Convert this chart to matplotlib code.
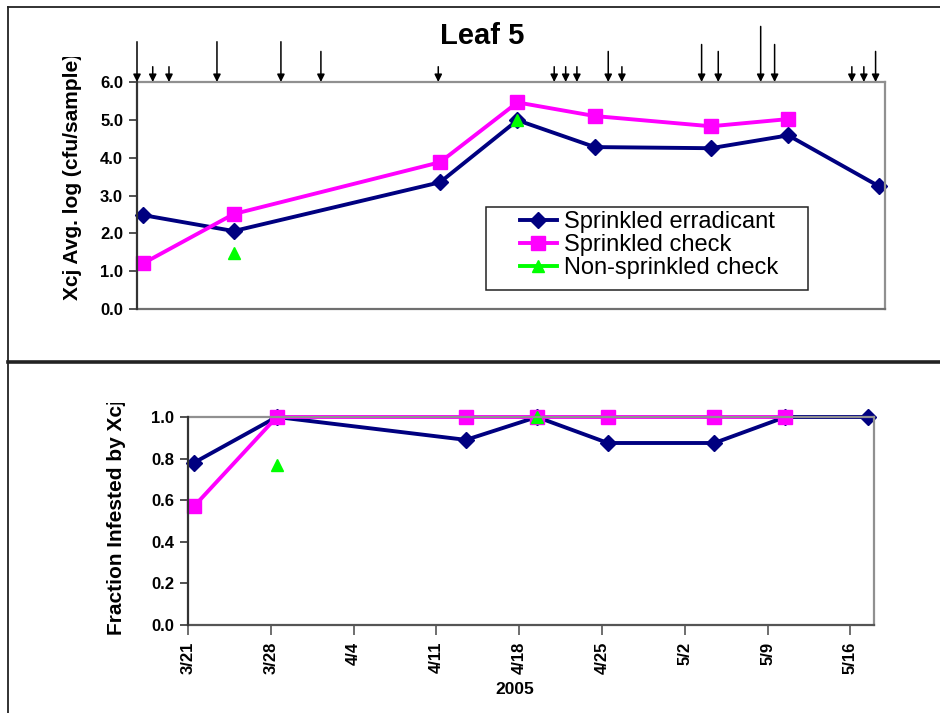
import datetime as dt
import matplotlib
matplotlib.use("Agg")
import matplotlib.pyplot as plt
import matplotlib.dates as mdates
import pandas as pd
from matplotlib.lines import Line2D
from matplotlib.patches import Rectangle
from matplotlib.transforms import Bbox, TransformedBbox

plt.rcParams['font.family'] = ['Liberation Sans', 'DejaVu Sans']

# sampling dates (points sit at noon of the day, like the Excel date axis)
sample_dates = ["2005-03-21", "2005-03-28", "2005-04-13", "2005-04-19",
                "2005-04-25", "2005-05-04", "2005-05-10", "2005-05-17"]
nonsprinkled_dates = ["2005-03-28", "2005-04-19"]

log_erradicant = [2.48, 2.06, 3.35, 4.99, 4.28, 4.25, 4.59, 3.25]
log_check = [1.21, 2.51, 3.88, 5.46, 5.10, 4.83, 5.02]
log_nonsprinkled = [1.48, 5.0]

frac_erradicant = [0.78, 1.0, 0.89, 1.0, 0.875, 0.875, 1.0, 1.0]
frac_check = [0.57, 1.0, 1.0, 1.0, 1.0, 1.0, 1.0]
frac_nonsprinkled = [0.77, 1.0]

# events marked by arrows above the top panel: days after 3/21, arrow length (pt)
event_days = [0, 1.22, 2.48, 6.2, 11.16, 14.26, 23.36, 32.35, 33.24, 34.11,
              36.54, 37.6, 43.78, 45.07, 48.36, 49.44, 55.43, 56.36, 57.27]
event_size = [29, 11, 11, 29, 29, 22, 11, 11, 11, 11,
              22, 11, 27, 22, 40, 27, 11, 11, 22]

series_names = ["Sprinkled erradicant", "Sprinkled check", "Non-sprinkled check"]
colors = ["#000080", "#FF00FF", "#00FF00"]
markers = ["D", "s", "^"]
msizes = [8.5, 10, 9]

start = pd.Timestamp("2005-03-21")
end = pd.Timestamp("2005-05-18")
tick_dates = pd.date_range(start, end, freq="7D")

x_all = pd.to_datetime(sample_dates) + pd.Timedelta(hours=12)
x_non = pd.to_datetime(nonsprinkled_dates) + pd.Timedelta(hours=12)

W, H = 940, 713
fig = plt.figure(figsize=(W / 100, H / 100), dpi=100)


def px_axes(l, t, r, b):
    return fig.add_axes([l / W, 1 - b / H, (r - l) / W, (b - t) / H])


def style_axes(ax):
    ax.spines['left'].set_color('#333333')
    ax.spines['bottom'].set_color('#707070')
    ax.spines['top'].set_color('#909090')
    ax.spines['right'].set_color('#909090')
    for s in ax.spines.values():
        s.set_linewidth(1.6)
    ax.spines['left'].set_zorder(5)
    ax.tick_params(axis='y', direction='out', length=6, width=1.2, pad=4,
                   labelsize=12, color='#333333')
    for lab in ax.get_yticklabels():
        lab.set_fontweight('bold')
    ax.set_xlim(start, end)


def draw_series(ax, ys):
    xs = [x_all, x_all[:len(ys[1])], x_non]
    # the non-sprinkled samples are not consecutive, so Excel left them unjoined
    styles = ["-", "-", "none"]
    for x, y, c, m, ms, ls in zip(xs, ys, colors, markers, msizes, styles):
        ax.plot(x, y, color=c, marker=m, markersize=ms, linewidth=2.8, linestyle=ls,
                markeredgecolor=c, clip_on=False)


# ---- top panel
ax1 = px_axes(137, 82, 885, 309)
draw_series(ax1, [log_erradicant, log_check, log_nonsprinkled])
ax1.set_ylim(0, 6)
ax1.set_yticks(range(7))
ax1.set_yticklabels([f"{v:.1f}" for v in range(7)])
style_axes(ax1)
ax1.set_xticks([])

for d, size in zip(event_days, event_size):
    xd = mdates.date2num(start + pd.Timedelta(days=d))
    ax1.annotate("", xy=(xd, 6.0), xytext=(0, size), textcoords="offset points",
                 annotation_clip=False,
                 arrowprops=dict(arrowstyle="-|>", color="black", lw=1.1,
                                 shrinkA=0, shrinkB=0, mutation_scale=11))

handles = [Line2D([], [], color=c, marker=m, markersize=ms, linewidth=2.8,
                  markeredgecolor=c) for c, m, ms in zip(colors, markers, msizes)]
leg = ax1.legend(handles, series_names, loc="upper left",
                 bbox_to_anchor=((520 - 137) / 748, (309 - 211) / 227),
                 frameon=False, fontsize=17, handlelength=1.55, handletextpad=0.3,
                 labelspacing=0.05, borderpad=0, borderaxespad=0)
ax1.add_patch(Rectangle(((486 - 137) / 748, (309 - 290) / 227), (808 - 486) / 748,
                        (290 - 207) / 227, transform=ax1.transAxes, fill=False,
                        edgecolor="#222222", linewidth=1.1, zorder=4))

# ---- bottom panel
ax2 = px_axes(188, 417, 874, 625)
draw_series(ax2, [frac_erradicant, frac_check, frac_nonsprinkled])
ax2.set_ylim(0, 1)
ax2.set_yticks([0, 0.2, 0.4, 0.6, 0.8, 1.0])
ax2.set_yticklabels(["0.0", "0.2", "0.4", "0.6", "0.8", "1.0"])
style_axes(ax2)
ax2.spines['bottom'].set_color('#555555')
ax2.set_xticks(tick_dates)
ax2.set_xticklabels([f"{t.month}/{t.day}" for t in tick_dates], rotation=90,
                    fontsize=12, fontweight='bold')
ax2.tick_params(axis='x', direction='out', length=7, width=1.2, pad=5, color='#555555')

# ---- labels and titles
fig.text(482 / W, 1 - 36 / H, "Leaf 5", fontsize=21, fontweight='bold',
         ha='center', va='center')
fig.text(515 / W, 1 - 689 / H, "2005", fontsize=12.5, fontweight='bold',
         ha='center', va='center')

t1 = fig.text(72 / W, 1 - 300 / H, "Xcj Avg. log (cfu/sample)", rotation=90,
              fontsize=15, fontweight='bold', ha='center', va='bottom')
t1.set_clip_box(TransformedBbox(Bbox.from_extents(0, 0, 1, 1 - 57 / H), fig.transFigure))
t1.set_clip_on(True)
t2 = fig.text(117 / W, 1 - 635 / H, "Fraction Infested by Xcj", rotation=90,
              fontsize=15, fontweight='bold', ha='center', va='bottom')
t2.set_clip_box(TransformedBbox(Bbox.from_extents(0, 0, 1, 1 - 403 / H), fig.transFigure))
t2.set_clip_on(True)

# ---- chart frames
for xs, ys, lw in [([8, 8], [7, H], 1.3), ([8, W], [7, 7], 1.3), ([8, W], [362, 362], 2.6)]:
    fig.add_artist(Line2D([x / W for x in xs], [1 - y / H for y in ys],
                          transform=fig.transFigure, color="#222222", linewidth=lw))

fig.savefig("out.png", dpi=100, facecolor="white")
